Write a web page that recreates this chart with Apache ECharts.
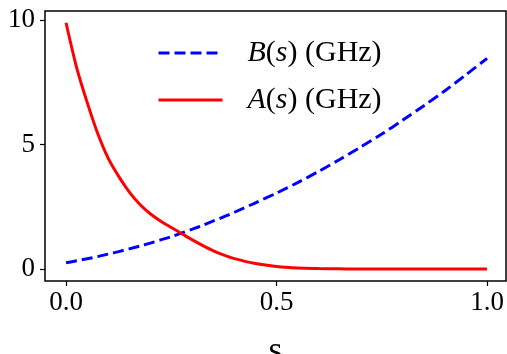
<!DOCTYPE html>
<html>
<head>
<meta charset="utf-8">
<script src="https://cdn.jsdelivr.net/npm/echarts@6/dist/echarts.min.js"></script>
<style>
  html, body { margin: 0; padding: 0; background: #fff; }
  #chart { width: 507px; height: 354px; }
</style>
</head>
<body>
<div id="chart"></div>
<script>
// finer steps where A(s) falls fast
const sValues = [0, 0.025, 0.05, 0.075, 0.1, 0.125, 0.15, 0.175, 0.2, 0.225, 0.25, 0.275, 0.3, 0.325, 0.35, 0.375, 0.4,
  0.45, 0.5, 0.55, 0.6, 0.65, 0.7, 0.75, 0.8, 0.85, 0.9, 0.95, 1.0]
const bValues = [0.25, 0.33, 0.41, 0.50, 0.60, 0.70, 0.81, 0.92, 1.04, 1.17, 1.30, 1.45, 1.60, 1.76, 1.93, 2.10, 2.28,
  2.66, 3.05, 3.47, 3.92, 4.40, 4.90, 5.42, 5.98, 6.56, 7.16, 7.80, 8.46]
const aValues = [9.89, 8.10, 6.70, 5.45, 4.45, 3.72, 3.10, 2.60, 2.22, 1.92, 1.67, 1.42, 1.17, 0.94, 0.73, 0.56, 0.42,
  0.22, 0.10, 0.04, 0.02, 0.01, 0, 0, 0, 0, 0, 0, 0]
const xTicks = [0, 0.5, 1.0]
const yTicks = [0, 5, 10]

const font = 'Liberation Serif'
const pairs = vals => sValues.map((s, i) => [s, vals[i]])

const chart = echarts.init(document.getElementById('chart'))
chart.setOption({
  animation: false,
  grid: {
    left: 45, top: 11, width: 461, height: 270,
    outerBoundsMode: 'none', containLabel: false,
    show: true, borderColor: '#000', borderWidth: 1.5
  },
  legend: {
    orient: 'vertical',
    left: 157, top: 36, padding: 0,
    itemWidth: 64, itemHeight: 14, itemGap: 13,
    data: ['B', 'A'],
    itemStyle: { opacity: 0 },
    lineStyle: { width: 3 },
    formatter: name => '{i|' + name + '}({i|s}) (GHz)',
    textStyle: {
      fontFamily: font, fontSize: 30, color: '#000', lineHeight: 34,
      padding: [0, 0, 0, 20],
      rich: { i: { fontFamily: font, fontSize: 30, fontStyle: 'italic', color: '#000' } }
    }
  },
  xAxis: {
    type: 'value', min: -0.05, max: 1.045,
    name: 's', nameLocation: 'middle', nameGap: 53,
    nameTextStyle: { fontFamily: font, fontSize: 36, color: '#000' },
    axisLine: { show: false, onZero: false },
    axisTick: { show: true, customValues: xTicks, length: 5, lineStyle: { color: '#000', width: 1.2 } },
    axisLabel: {
      customValues: xTicks, margin: 8,
      fontFamily: font, fontSize: 27, color: '#000',
      formatter: v => v.toFixed(1)
    },
    splitLine: { show: false }
  },
  yAxis: {
    type: 'value', min: -0.48, max: 10.36,
    axisLine: { show: false, onZero: false },
    axisTick: { show: true, customValues: yTicks, length: 5, lineStyle: { color: '#000', width: 1.2 } },
    axisLabel: {
      customValues: yTicks, margin: 10,
      fontFamily: font, fontSize: 27, color: '#000'
    },
    splitLine: { show: false }
  },
  series: [
    {
      name: 'B', type: 'line', data: pairs(bValues),
      smooth: 0.3, showSymbol: false, symbol: 'none',
      lineStyle: { color: '#0000ff', width: 3, type: [11, 5] },
      itemStyle: { color: '#0000ff' }
    },
    {
      name: 'A', type: 'line', data: pairs(aValues),
      smooth: 0.3, showSymbol: false, symbol: 'none',
      lineStyle: { color: '#ff0000', width: 3 },
      itemStyle: { color: '#ff0000' }
    }
  ]
})
</script>
</body>
</html>
